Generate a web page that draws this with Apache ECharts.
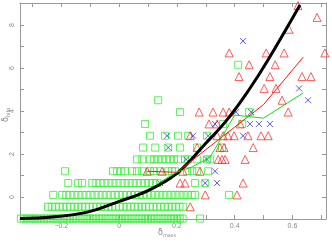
<!DOCTYPE html>
<html><head><meta charset="utf-8">
<script src="https://cdn.jsdelivr.net/npm/echarts@6/dist/echarts.min.js"></script>
<style>html,body{margin:0;padding:0;background:#fff}#c{width:332px;height:244px}</style>
</head><body><div id="c"></div>
<script>
// ---- tick values / labels ----
const xTicks = [-0.3,-0.2,-0.1,0,0.1,0.2,0.3,0.4,0.5,0.6,0.7];
const xLabels = [-0.2,0,0.2,0.4,0.6];
const yTicks = [0,1,2,3,4,5,6,7,8,9];
const yLabels = [0,2,4,6,8];

// ---- green squares: [x, y] ----
const squares = [
  // row -1
  [-0.34,-1],[-0.33,-1],[-0.32,-1],[-0.31,-1],[-0.30,-1],[-0.29,-1],[-0.28,-1],[-0.27,-1],[-0.26,-1],[-0.25,-1],
  [-0.24,-1],[-0.23,-1],[-0.22,-1],[-0.21,-1],[-0.20,-1],[-0.19,-1],[-0.18,-1],[-0.17,-1],[-0.16,-1],[-0.15,-1],
  [-0.14,-1],[-0.13,-1],[-0.12,-1],[-0.11,-1],[-0.10,-1],[-0.09,-1],[-0.08,-1],[-0.07,-1],[-0.06,-1],[-0.05,-1],
  [-0.04,-1],[-0.03,-1],[-0.02,-1],[-0.01,-1],[0.0,-1],[0.01,-1],[0.02,-1],[0.03,-1],[0.04,-1],[0.05,-1],
  [0.06,-1],[0.07,-1],[0.08,-1],[0.09,-1],[0.10,-1],[0.11,-1],[0.12,-1],[0.13,-1],[0.14,-1],[0.15,-1],
  [0.16,-1],[0.17,-1],[0.18,-1],[0.19,-1],[0.20,-1],[0.21,-1],[0.22,-1],[0.28,-1],
  // row -0.45
  [-0.246,-0.45],[-0.233,-0.45],[-0.22,-0.45],[-0.207,-0.45],[-0.194,-0.45],[-0.181,-0.45],[-0.168,-0.45],[-0.155,-0.45],
  [-0.142,-0.45],[-0.129,-0.45],[-0.116,-0.45],[-0.103,-0.45],[-0.09,-0.45],[-0.077,-0.45],[-0.064,-0.45],[-0.051,-0.45],
  [-0.038,-0.45],[-0.025,-0.45],[-0.012,-0.45],[0.001,-0.45],[0.014,-0.45],[0.027,-0.45],[0.04,-0.45],[0.053,-0.45],
  [0.066,-0.45],[0.079,-0.45],[0.092,-0.45],[0.105,-0.45],[0.118,-0.45],[0.131,-0.45],[0.144,-0.45],[0.157,-0.45],
  [0.17,-0.45],[0.183,-0.45],[0.196,-0.45],[0.209,-0.45],[0.222,-0.45],
  // row 0.1
  [-0.228,0.1],[-0.197,0.1],[-0.183,0.1],[-0.169,0.1],[-0.155,0.1],[-0.141,0.1],[-0.127,0.1],[-0.113,0.1],[-0.099,0.1],
  [-0.085,0.1],[-0.071,0.1],[-0.057,0.1],[-0.043,0.1],[-0.029,0.1],[-0.015,0.1],[-0.001,0.1],[0.013,0.1],[0.027,0.1],
  [0.041,0.1],[0.055,0.1],[0.069,0.1],[0.083,0.1],[0.097,0.1],[0.111,0.1],[0.125,0.1],[0.139,0.1],[0.153,0.1],
  [0.167,0.1],[0.181,0.1],[0.195,0.1],[0.209,0.1],[0.223,0.1],[0.237,0.1],[0.251,0.1],[0.263,0.1],[0.38,0.1],
  // row 0.65
  [-0.176,0.65],[-0.142,0.65],[-0.128,0.65],[-0.093,0.65],[-0.079,0.65],[-0.065,0.65],[-0.051,0.65],[-0.037,0.65],
  [-0.023,0.65],[-0.009,0.65],[0.005,0.65],[0.019,0.65],[0.033,0.65],[0.047,0.65],[0.061,0.65],[0.075,0.65],
  [0.089,0.65],[0.103,0.65],[0.117,0.65],[0.131,0.65],[0.263,0.65],[0.298,0.65],
  // row 1.2
  [-0.187,1.2],[-0.021,1.2],[-0.007,1.2],[0.007,1.2],[0.021,1.2],[0.045,1.2],[0.062,1.2],[0.08,1.2],[0.107,1.2],
  [0.121,1.2],[0.142,1.2],[0.17,1.2],[0.183,1.2],[0.194,1.2],[0.235,1.2],[0.253,1.2],[0.27,1.2],[0.308,1.2],
  // row 1.75
  [0.062,1.75],[0.08,1.75],[0.107,1.75],[0.121,1.75],[0.135,1.75],[0.149,1.75],[0.163,1.75],[0.176,1.75],
  [0.19,1.75],[0.204,1.75],[0.228,1.75],[0.239,1.75],[0.27,1.75],[0.304,1.75],[0.315,1.75],
  // row 2.3
  [0.083,2.3],[0.125,2.3],[0.17,2.3],[0.211,2.3],[0.27,2.3],[0.356,2.3],
  // row 2.85
  [0.107,2.85],[0.159,2.85],[0.204,2.85],[0.239,2.85],[0.304,2.85],
  // upper rows
  [0.09,3.4],[0.36,3.4],[0.426,3.4],
  [0.211,3.95],[0.45,3.95],
  [0.135,4.5],
  [0.412,6.15]
];

// ---- red triangles ----
const triangles = [
  [0.619,8.9],[0.685,8.35],[0.588,7.8],
  [0.381,6.7],[0.509,6.7],[0.571,6.7],[0.712,6.7],
  [0.45,6.15],[0.54,6.15],
  [0.415,5.6],[0.522,5.6],[0.633,5.6],[0.664,5.6],
  [0.502,5.05],[0.543,5.05],
  [0.564,4.5],
  [0.277,3.95],[0.325,3.95],[0.36,3.95],[0.381,3.95],[0.585,3.95],
  [0.311,3.4],[0.339,3.4],[0.419,3.4],
  [0.246,2.85],[0.339,2.85],[0.36,2.85],[0.377,2.85],[0.398,2.85],[0.446,2.85],[0.491,2.85],[0.516,2.85],
  [0.27,2.3],[0.349,2.3],[0.363,2.3],[0.464,2.3],
  [0.343,1.75],[0.356,1.75],[0.367,1.75],[0.436,1.75],
  [0.097,1.2],[0.149,1.2],[0.221,1.2],[0.28,1.2],
  [0.211,0.65],[0.228,0.65],[0.429,0.65],
  [0.298,0.1],[0.408,0.1],
  [0.246,-0.45]
];

// ---- blue crosses ----
const crosses = [
  [0.429,7.25],[0.623,5.05],[0.654,4.5],
  [0.405,3.95],[0.457,3.95],
  [0.332,3.4],[0.453,3.4],[0.484,3.4],[0.522,3.4],
  [0.166,2.85],[0.256,2.85],[0.308,2.85],[0.429,2.85],
  [0.17,2.3],
  [0.232,1.75],[0.304,1.75],
  [0.332,1.2],
  [0.142,0.65],[0.298,0.65],[0.339,0.65]
];

// ---- curves ----
const blackCurve = [[-0.343,-1.0],[-0.23,-0.93],[-0.11,-0.7],[0.0,-0.2],[0.1,0.3],[0.2,1.1],[0.3,2.5],[0.374,3.6],[0.45,5.0],[0.512,6.3],[0.626,8.93]];
const redLine = [[0.097,1.2],[0.2,1.15],[0.29,2.1],[0.4,3.25],[0.5,4.3],[0.637,6.5]];
const greenLine = [[0.13,0.6],[0.2,1.16],[0.253,1.4],[0.315,1.86],[0.40,3.81],[0.50,3.67],[0.637,4.84]];

const XMIN = -0.343, XMAX = 0.716, YMIN = -1.02, YMAX = 9.02;
const axisGray = '#999';
const fmt = v => (v < 0 ? '\u2212' + Math.abs(v) : String(v));

const chart = echarts.init(document.getElementById('c'), null, {renderer:'canvas'});
const baseX = (pos, labels) => ({
  type:'value', min:XMIN, max:XMAX, position:pos,
  axisLine:{show:true, onZero:false, lineStyle:{color:axisGray, width:1}},
  axisTick:{show:true, inside:true, length:4, customValues:xTicks, lineStyle:{color:axisGray}},
  axisLabel: labels ? {show:true, customValues:xLabels, formatter:fmt, color:'#888', fontSize:7, margin:4, fontFamily:'Liberation Sans'} : {show:false},
  splitLine:{show:false}
});
const baseY = (pos, labels) => ({
  type:'value', min:YMIN, max:YMAX, position:pos,
  axisLine:{show:true, onZero:false, lineStyle:{color:axisGray, width:1}},
  axisTick:{show:true, inside:true, length:4, customValues:yTicks, lineStyle:{color:axisGray}},
  axisLabel: labels ? {show:true, customValues:yLabels, rotate:90, color:'#888', fontSize:7, margin:4, fontFamily:'Liberation Sans'} : {show:false},
  splitLine:{show:false}
});

chart.setOption({
  animation:false,
  grid:{left:20, right:6, top:3, bottom:25, containLabel:false},
  xAxis:[baseX('bottom', true), baseX('top', false)],
  yAxis:[baseY('left', true), baseY('right', false)],
  series:[
    {type:'scatter', data:squares, symbol:'rect', symbolSize:7, z:2,
     itemStyle:{color:'rgba(0,0,0,0)', borderColor:'#33ee33', borderWidth:1}},
    {type:'scatter', data:triangles, symbol:'triangle', symbolSize:8, z:3,
     itemStyle:{color:'rgba(0,0,0,0)', borderColor:'#ff3333', borderWidth:1}},
    {type:'scatter', data:crosses, symbol:'path://M0,0L10,10M10,0L0,10', symbolSize:6, z:4,
     itemStyle:{color:'rgba(0,0,0,0)', borderColor:'#3333dd', borderWidth:1}},
    {type:'line', data:blackCurve, smooth:0.4, showSymbol:false, z:5,
     lineStyle:{color:'#000', width:3}},
    {type:'line', data:redLine, showSymbol:false, z:6,
     lineStyle:{color:'#ff1111', width:1}},
    {type:'line', data:greenLine, showSymbol:false, z:6,
     lineStyle:{color:'#11dd11', width:1}}
  ],
  graphic:[
    {type:'text', left:158, top:229, style:{
      text:'{a|δ}{b|mass}', fill:'#888',
      rich:{a:{fontSize:8, fill:'#888', fontFamily:'DejaVu Sans'}, b:{fontSize:5, fill:'#888', padding:[5,0,0,0], fontFamily:'DejaVu Sans'}}
    }},
    {type:'text', x:1, y:122, rotation:Math.PI/2, style:{
      text:'{a|δ}{b|hifo}', fill:'#888',
      rich:{a:{fontSize:8, fill:'#888', fontFamily:'DejaVu Sans'}, b:{fontSize:5, fill:'#888', padding:[5,0,0,0], fontFamily:'DejaVu Sans'}}
    }}
  ]
});
</script>
</body></html>
